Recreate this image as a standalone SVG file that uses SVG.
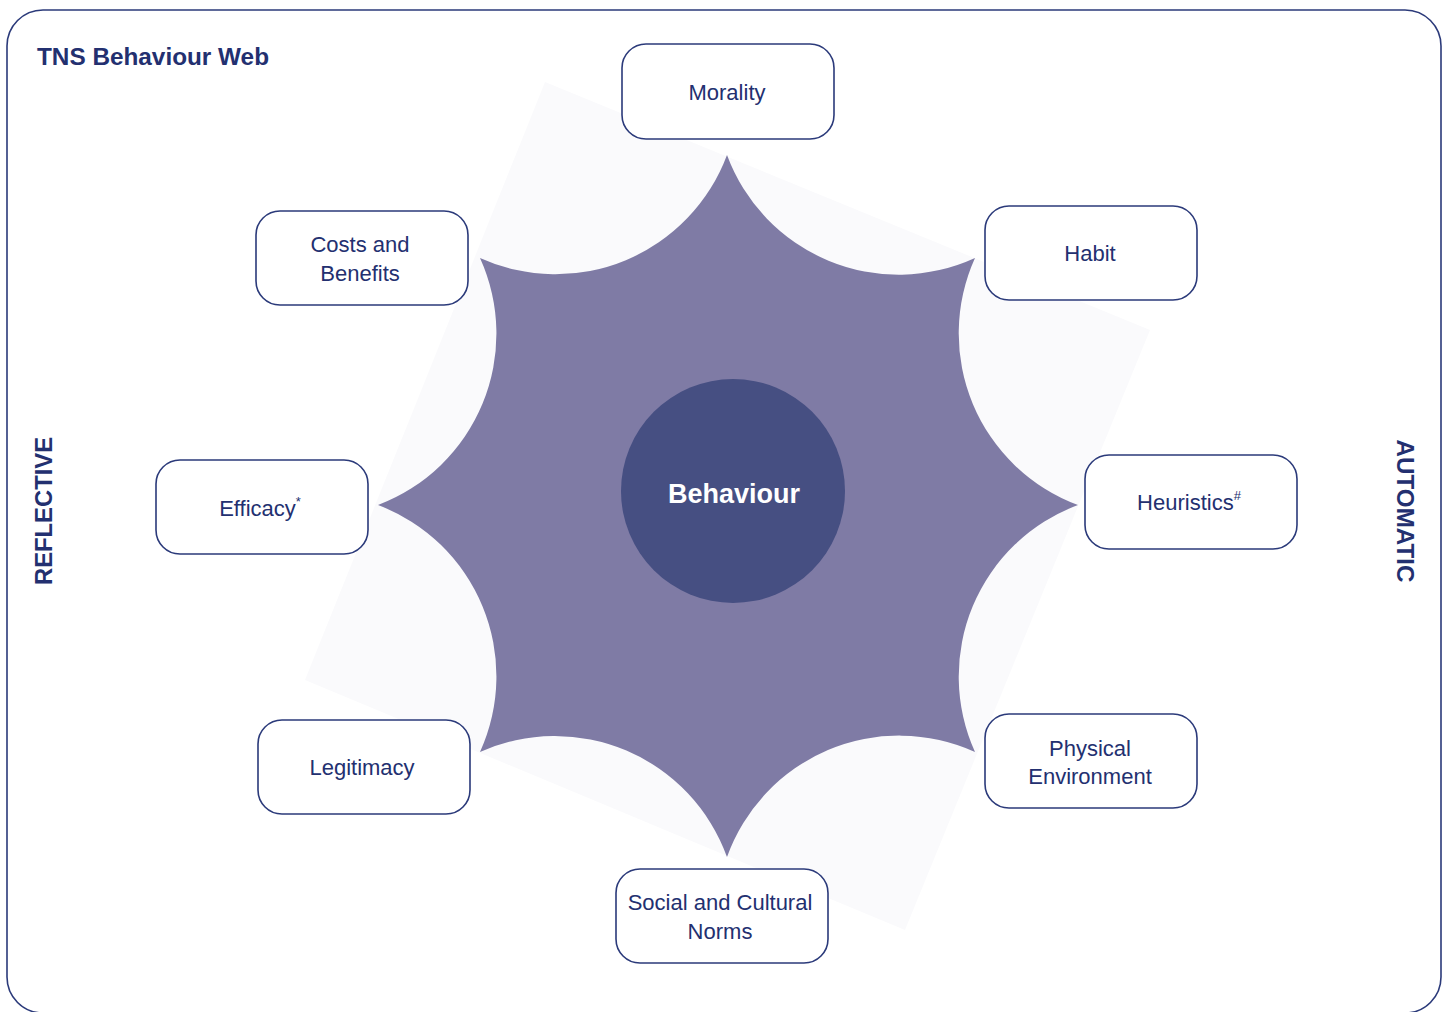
<svg xmlns="http://www.w3.org/2000/svg" width="1450" height="1012" viewBox="0 0 1450 1012">
<style>
.box{fill:#ffffff;stroke:#2b3a7a;stroke-width:1.6}
.lbl{font-family:"Liberation Sans",Arial,sans-serif;font-size:22px;fill:#233070;text-anchor:middle}
.side{font-family:"Liberation Sans",Arial,sans-serif;font-size:24px;font-weight:bold;fill:#233070;text-anchor:middle}
.sup{font-size:13px}
</style>
<rect x="0" y="0" width="1450" height="1012" fill="#ffffff"/>
<rect x="7" y="10" width="1434" height="1003" rx="36" ry="36" fill="none" stroke="#2b3a7a" stroke-width="1.6"/>
<text x="37" y="65" font-family="'Liberation Sans',Arial,sans-serif" font-size="24" font-weight="bold" fill="#233070" textLength="232" lengthAdjust="spacingAndGlyphs">TNS Behaviour Web</text>
<polygon points="545,82 1150,330 905,930 305,680" fill="#fafafc"/>
<g id="star">
<path d="M727,155 A183,183 0 0 0 975,258 A183,183 0 0 0 1078,505 A183,183 0 0 0 975,752 A183,183 0 0 0 727,857 A183,183 0 0 0 480,752 A183,183 0 0 0 378,505 A183,183 0 0 0 480,258 A183,183 0 0 0 727,155 Z" fill="#7f7ba5"/>
</g>
<g id="behaviour">
<circle cx="733" cy="491" r="112" fill="#464f82"/>
<text x="734" y="503" font-family="'Liberation Sans',Arial,sans-serif" font-size="27" font-weight="bold" fill="#ffffff" text-anchor="middle">Behaviour</text>
</g>
<g id="morality"><rect class="box" x="622" y="44" width="212" height="95" rx="24"/><text class="lbl" x="727" y="100">Morality</text></g>
<g id="costs"><rect class="box" x="256" y="211" width="212" height="94" rx="24"/><text class="lbl" x="360" y="252">Costs and</text><text class="lbl" x="360" y="281">Benefits</text></g>
<g id="habit"><rect class="box" x="985" y="206" width="212" height="94" rx="24"/><text class="lbl" x="1090" y="261">Habit</text></g>
<g id="efficacy"><rect class="box" x="156" y="460" width="212" height="94" rx="24"/><text class="lbl" x="260" y="516">Efficacy<tspan class="sup" dy="-10">*</tspan></text></g>
<g id="heuristics"><rect class="box" x="1085" y="455" width="212" height="94" rx="24"/><text class="lbl" x="1189" y="510">Heuristics<tspan class="sup" dy="-10">#</tspan></text></g>
<g id="legitimacy"><rect class="box" x="258" y="720" width="212" height="94" rx="24"/><text class="lbl" x="362" y="775">Legitimacy</text></g>
<g id="physical"><rect class="box" x="985" y="714" width="212" height="94" rx="24"/><text class="lbl" x="1090" y="756">Physical</text><text class="lbl" x="1090" y="784">Environment</text></g>
<g id="social"><rect class="box" x="616" y="869" width="212" height="94" rx="24"/><text class="lbl" x="720" y="910">Social and Cultural</text><text class="lbl" x="720" y="939">Norms</text></g>
<g id="connectors"></g>
<text class="side" transform="translate(52,511) rotate(-90)" textLength="148" lengthAdjust="spacingAndGlyphs">REFLECTIVE</text>
<text class="side" transform="translate(1397,511) rotate(90)" textLength="143" lengthAdjust="spacingAndGlyphs">AUTOMATIC</text>
</svg>
